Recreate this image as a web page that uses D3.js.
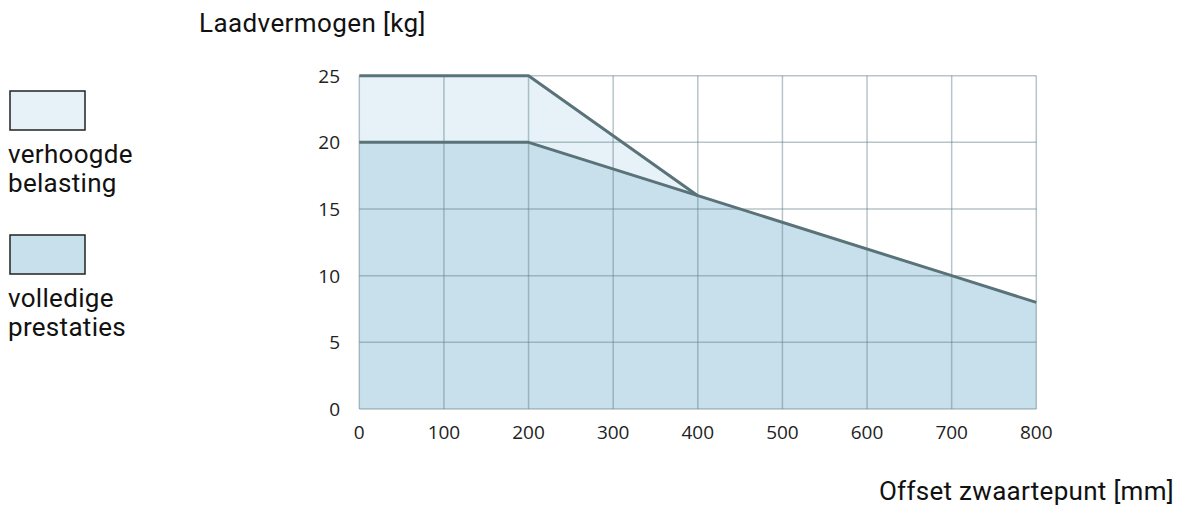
<!DOCTYPE html>
<html><head><meta charset="utf-8">
<script src="https://cdn.jsdelivr.net/npm/d3@7"></script>
<style>body{margin:0;background:#fff}svg{display:block}</style>
</head><body>
<svg id="c" width="1182" height="512"></svg>
<script>
const xTicks = [0,100,200,300,400,500,600,700,800];
const yTicks = [0,5,10,15,20,25];
const raisedX = [0,200,400];
const raisedY = [25,25,16];
const fullX = [0,200,400,700,800];
const fullY = [20,20,16,10,8];
const legendLabels = [["verhoogde","belasting"],["volledige","prestaties"]];
const yTitle = "Laadvermogen [kg]";
const xTitle = "Offset zwaartepunt [mm]";

const svg = d3.select("#c");
const x = d3.scaleLinear().domain([0,800]).range([359.3,1036.3]);
const y = d3.scaleLinear().domain([0,25]).range([409,75.7]);

const raisedPts = raisedX.map((d,i)=>[d,raisedY[i]]).concat(fullX.slice(3).map((d,i)=>[d,fullY[i+3]]));
const fullPts = fullX.map((d,i)=>[d,fullY[i]]);

const area = d3.area().x(d=>x(d[0])).y0(y(0)).y1(d=>y(d[1]));
const line = d3.line().x(d=>x(d[0])).y(d=>y(d[1]));

svg.append("path").attr("d",area(raisedPts)).attr("fill","#e6f1f8");
svg.append("path").attr("d",area(fullPts)).attr("fill","#c8e0ec");

const g = svg.append("g");
g.selectAll(".vx").data(xTicks).join("line")
  .attr("x1",d=>x(d)).attr("x2",d=>x(d)).attr("y1",y(0)).attr("y2",y(25))
  .attr("stroke","#5f7f88").attr("stroke-opacity",0.45).attr("stroke-width",1.5);
g.selectAll(".hy").data(yTicks).join("line")
  .attr("x1",x(0)).attr("x2",x(800)).attr("y1",d=>y(d)).attr("y2",d=>y(d))
  .attr("stroke","#5f7f88").attr("stroke-opacity",0.45).attr("stroke-width",1.5);

svg.append("path").attr("d",line(raisedX.map((d,i)=>[d,raisedY[i]]))).attr("fill","none")
  .attr("stroke","#5a7379").attr("stroke-width",3).attr("stroke-linejoin","round");
svg.append("path").attr("d",line(fullPts)).attr("fill","none")
  .attr("stroke","#5a7379").attr("stroke-width",3).attr("stroke-linejoin","round");

const tickFont = "'Open Sans', sans-serif";
svg.selectAll(".xt").data(xTicks).join("text")
  .attr("x",d=>x(d)).attr("y",439).attr("text-anchor","middle")
  .attr("font-family",tickFont).attr("font-size",19).attr("fill","#222").text(d=>d);
svg.selectAll(".yt").data(yTicks).join("text")
  .attr("x",340).attr("y",d=>y(d)+7).attr("text-anchor","end")
  .attr("font-family",tickFont).attr("font-size",19).attr("fill","#222").text(d=>d);

const labFont = "Roboto, sans-serif";
svg.append("text").attr("x",199).attr("y",32).attr("font-family",labFont).attr("font-size",26)
  .attr("letter-spacing",0.4).attr("fill","#111").text(yTitle);
svg.append("text").attr("x",1174).attr("y",500).attr("text-anchor","end").attr("font-family",labFont)
  .attr("font-size",26).attr("letter-spacing",0.3).attr("fill","#111").text(xTitle);

const legFill = ["#e6f1f8","#c8e0ec"];
const legTop = [91,235];
legendLabels.forEach((lines,i)=>{
  svg.append("rect").attr("x",10).attr("y",legTop[i]).attr("width",75).attr("height",39)
    .attr("fill",legFill[i]).attr("stroke","#222").attr("stroke-width",1.5);
  lines.forEach((t,j)=>{
    svg.append("text").attr("x",8).attr("y",legTop[i]+72+j*29).attr("font-family",labFont)
      .attr("font-size",26).attr("letter-spacing",0.3).attr("fill","#111").text(t);
  });
});
</script>
</body></html>
